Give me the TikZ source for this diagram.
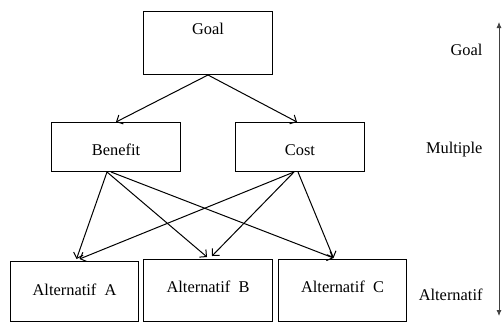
\documentclass[tikz,border=0pt]{standalone}
\usepackage{fontspec}
\setmainfont{Liberation Serif}
\usetikzlibrary{arrows.meta}
\tikzset{
  box/.style={draw,rectangle,anchor=north west,minimum width=129pt,
    inner xsep=0pt,inner ysep=0pt,font=\fontsize{16.4}{19}\selectfont},
  level/.style={anchor=base east,inner sep=0pt,font=\fontsize{16.4}{19}\selectfont}
}
\begin{document}
\begin{tikzpicture}[x=1pt,y=-1pt,line width=1pt,>={Straight Barb[length=5pt,width=10pt]}]
		\useasboundingbox (0,0) rectangle (502,322);
		% boxes
		\node[box,text height=23pt,text depth=40pt] (goal) at (143,11) {Goal};
		\node[box,text height=33pt,text depth=16pt] (benefit) at (51,122) {Benefit};
		\node[box,text height=33pt,text depth=16pt] (cost) at (235,122) {Cost};
		\node[box,text height=34pt,text depth=26pt,minimum width=128pt] (altA) at (10,261) {Alternatif\ \ A};
		\node[box,text height=33pt,text depth=29pt] (altB) at (143,259) {Alternatif\ \ B};
		\node[box,text height=33pt,text depth=29pt,minimum width=128pt] (altC) at (278,259) {Alternatif\ \ C};
		% arrows
		\draw[->] (goal.south) -- (benefit.north);
		\draw[->] (goal.south) -- ([xshift=-3pt]cost.north);
		\draw[->] ([xshift=-9pt]benefit.south) -- ([xshift=2pt,yshift=2pt]altA.north);
		\draw[->] ([xshift=-9pt]benefit.south) -- ([xshift=-1pt,yshift=2pt]altB.north);
		\draw[->] ([xshift=-5pt]benefit.south) -- ([xshift=-9pt,yshift=1pt]altC.north);
		\draw[->] ([xshift=-6pt]cost.south) -- ([xshift=5pt,yshift=2pt]altA.north);
		\draw[->] ([xshift=-6pt]cost.south) -- ([xshift=4pt,yshift=3pt]altB.north);
		\draw[->] ([xshift=-2pt]cost.south) -- ([xshift=-9pt,yshift=1pt]altC.north);
		% levels
		\node[level] (lgoal) at (483,55) {Goal};
		\node[level] (lmult) at (483,153) {Multiple};
		\node[level] (lalt) at (483,300) {Alternatif};
		\coordinate (top) at (499,22);
		\coordinate (bot) at (499,316);
		\draw[{Latex[length=6pt,width=5pt]}-{Latex[length=6pt,width=5pt]},black!75,line width=0.8pt] (top) -- (bot);
\end{tikzpicture}
\end{document}
